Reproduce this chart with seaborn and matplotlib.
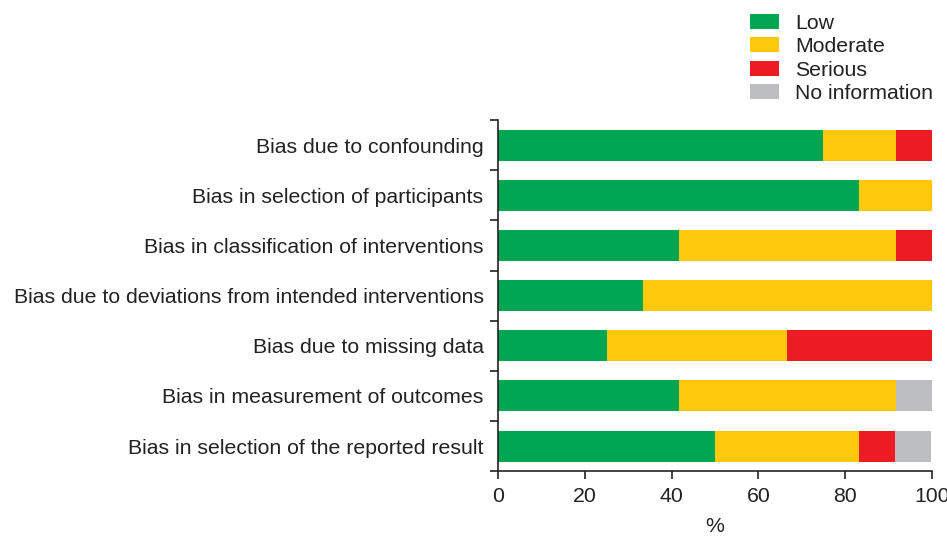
import numpy as np
import pandas as pd
import matplotlib
matplotlib.use('Agg')
import matplotlib.pyplot as plt
from matplotlib.patches import Patch
from matplotlib.ticker import FixedLocator
import seaborn as sns

domains = ['Bias due to confounding',
           'Bias in selection of participants',
           'Bias in classification of interventions',
           'Bias due to deviations from intended interventions',
           'Bias due to missing data',
           'Bias in measurement of outcomes',
           'Bias in selection of the reported result']

low      = [75.0, 83.3, 41.7, 33.3, 25.0, 41.7, 50.0]
moderate = [16.7, 16.7, 50.0, 66.7, 41.7, 50.0, 33.3]
serious  = [8.3, 0.0, 8.3, 0.0, 33.3, 0.0, 8.3]
no_info  = [0.0, 0.0, 0.0, 0.0, 0.0, 8.3, 8.3]

levels = ['Low', 'Moderate', 'Serious', 'No information']
colors = ['#00A651', '#FEC90D', '#ED1C24', '#BCBEC0']

FS = 15.3

sns.set_style('white')
plt.rcParams['font.family'] = ['Liberation Sans', 'DejaVu Sans']
plt.rcParams['font.size'] = FS

df = pd.DataFrame({'domain': domains, 'Low': low, 'Moderate': moderate,
                   'Serious': serious, 'No information': no_info})
cum = df[levels].cumsum(axis=1)

fig = plt.figure(figsize=(9.47, 5.36), dpi=100)
ax = fig.add_axes([0.526, 0.121, 0.458, 0.655])

# draw cumulative totals from the back to the front
for lev, col in reversed(list(zip(levels, colors))):
    sns.barplot(x=cum[lev], y=df['domain'], color=col, width=0.62,
                saturation=1, ax=ax, orient='h', linewidth=0)

ax.set_xlim(0, 100)
ax.set_ylim(6.5, -0.5)
ax.set_xticks([0, 20, 40, 60, 80, 100])
ax.set_xlabel('%', fontsize=FS, labelpad=7.5)
ax.set_ylabel('')
ax.tick_params(axis='y', length=0, pad=10.5, labelsize=FS, labelcolor='#222222')
ax.yaxis.set_minor_locator(FixedLocator(np.arange(-0.5, 7, 1)))
ax.tick_params(axis='y', which='minor', length=6, width=1.2, color='#222222', left=True)
ax.tick_params(axis='x', length=6, width=1.2, color='#222222', labelsize=FS,
               labelcolor='#222222', bottom=True, pad=5.5)
for side in ['top', 'right']:
    ax.spines[side].set_visible(False)
for side in ['left', 'bottom']:
    ax.spines[side].set_linewidth(1.2)
    ax.spines[side].set_color('#222222')

handles = [Patch(facecolor=c, edgecolor='none') for c in colors]
fig.legend(handles, levels, loc='upper left', bbox_to_anchor=(750 / 947, 1 - 14 / 536),
           frameon=False, fontsize=FS, handlelength=1.36, handleheight=0.7,
           labelspacing=0.2, handletextpad=0.75, borderpad=0, borderaxespad=0,
           labelcolor='#222222')

fig.savefig('out.png', dpi=100)
